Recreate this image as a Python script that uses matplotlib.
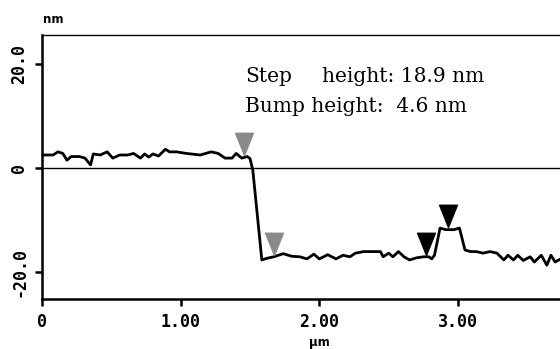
import matplotlib
matplotlib.use("Agg")
import matplotlib.pyplot as plt
import numpy as np
from matplotlib.path import Path

# ------------------ profile data ------------------
pos_um = [0.0, 0.01, 0.08, 0.115, 0.15, 0.18, 0.21, 0.27, 0.31, 0.35,
          0.37, 0.42, 0.47, 0.51, 0.56, 0.62, 0.66, 0.71, 0.74, 0.77,
          0.80, 0.84, 0.89, 0.92, 0.97, 1.04, 1.14, 1.22, 1.27, 1.32,
          1.37, 1.40, 1.44, 1.48, 1.50, 1.52, 1.585, 1.62, 1.67, 1.74,
          1.80, 1.86, 1.91, 1.96, 2.00, 2.06, 2.12, 2.17, 2.22, 2.26,
          2.32, 2.44, 2.46, 2.50, 2.53, 2.57, 2.61, 2.65, 2.70, 2.75,
          2.79, 2.81, 2.83, 2.87, 2.91, 2.97, 3.01, 3.05, 3.09, 3.13,
          3.18, 3.23, 3.28, 3.33, 3.36, 3.40, 3.43, 3.47, 3.52, 3.55,
          3.60, 3.64, 3.67, 3.70, 3.74]
height_nm = [2.3, 2.5, 2.5, 3.1, 2.8, 1.5, 2.2, 2.2, 1.9, 0.6,
             2.7, 2.5, 3.1, 1.9, 2.5, 2.5, 2.8, 1.9, 2.7, 2.1,
             2.7, 2.3, 3.6, 3.1, 3.1, 2.8, 2.5, 3.1, 2.8, 1.9,
             1.9, 2.8, 1.9, 2.2, 1.8, -0.4, -17.6, -17.3, -17.0, -16.4,
             -16.9, -17.0, -17.4, -16.5, -17.4, -16.6, -17.4, -16.7, -17.0, -16.3,
             -16.0, -16.0, -17.0, -16.3, -17.0, -16.0, -17.0, -17.6, -17.2, -17.0,
             -17.0, -17.4, -16.7, -11.5, -11.8, -11.8, -11.5, -15.7, -16.0, -16.0,
             -16.3, -16.0, -16.3, -17.6, -16.7, -17.6, -16.7, -17.7, -17.0, -18.0,
             -16.7, -18.6, -16.7, -18.0, -17.4]

# cursor markers (tip position on the profile)
step_cursor_x = [1.46, 1.67]
step_cursor_y = [2.5, -16.7]
bump_cursor_x = [2.77, 2.93]
bump_cursor_y = [-16.7, -11.3]

xticks = [0, 1, 2, 3]
xtick_labels = ["0", "1.00", "2.00", "3.00"]
yticks = [20, 0, -20]
ytick_labels = ["20.0", "0", "-20.0"]

step_height = 18.9
bump_height = 4.6

# ------------------ figure ------------------
fig = plt.figure(figsize=(5.6, 3.49), dpi=100)
ax = fig.add_axes([0.075, 0.143, 0.925, 0.757])

ax.axhline(0, color="black", lw=1.0, zorder=1)
ax.plot(pos_um, height_nm, color="black", lw=2.0, zorder=3)

# downward triangle with its tip at the anchor point
cursor = Path([(-0.8, 2.0), (0.8, 2.0), (0.0, 0.0), (-0.8, 2.0)],
              [Path.MOVETO, Path.LINETO, Path.LINETO, Path.CLOSEPOLY])
ax.plot(step_cursor_x, step_cursor_y, ls="none", marker=cursor, ms=32,
        mfc="#8a8a8a", mec="#8a8a8a", zorder=4)
ax.plot(bump_cursor_x, bump_cursor_y, ls="none", marker=cursor, ms=32,
        mfc="black", mec="black", zorder=4)

ax.set_xlim(0, 3.735)
ax.set_ylim(-25.1, 25.5)

ax.set_xticks(xticks)
ax.set_xticklabels(xtick_labels)
ax.set_yticks(yticks)
ax.set_yticklabels(ytick_labels, rotation=90, va="center")

for lbl in ax.get_xticklabels() + ax.get_yticklabels():
    lbl.set_fontfamily("DejaVu Sans Mono")
    lbl.set_fontweight("bold")
    lbl.set_fontsize(12)

ax.tick_params(direction="out", length=5, width=1.8, pad=5)

ax.spines["right"].set_visible(False)
ax.spines["left"].set_linewidth(1.8)
ax.spines["bottom"].set_linewidth(1.8)
ax.spines["top"].set_linewidth(1.0)

# annotation
serif = dict(family="DejaVu Serif", size=14.5, color="black")
ax.text(1.464, 16.5, "Step", **serif)
ax.text(2.02, 16.5, f"height: {step_height} nm", **serif)
ax.text(1.464, 10.7, f"Bump height:  {bump_height} nm", **serif)

# unit labels
fig.text(0.077, 0.945, "nm", fontsize=8.5, fontweight="bold", ha="left", va="center")
fig.text(0.571, 0.02, "µm", fontsize=8.5, fontweight="bold", ha="center", va="center")

fig.savefig("out.png", dpi=100)
